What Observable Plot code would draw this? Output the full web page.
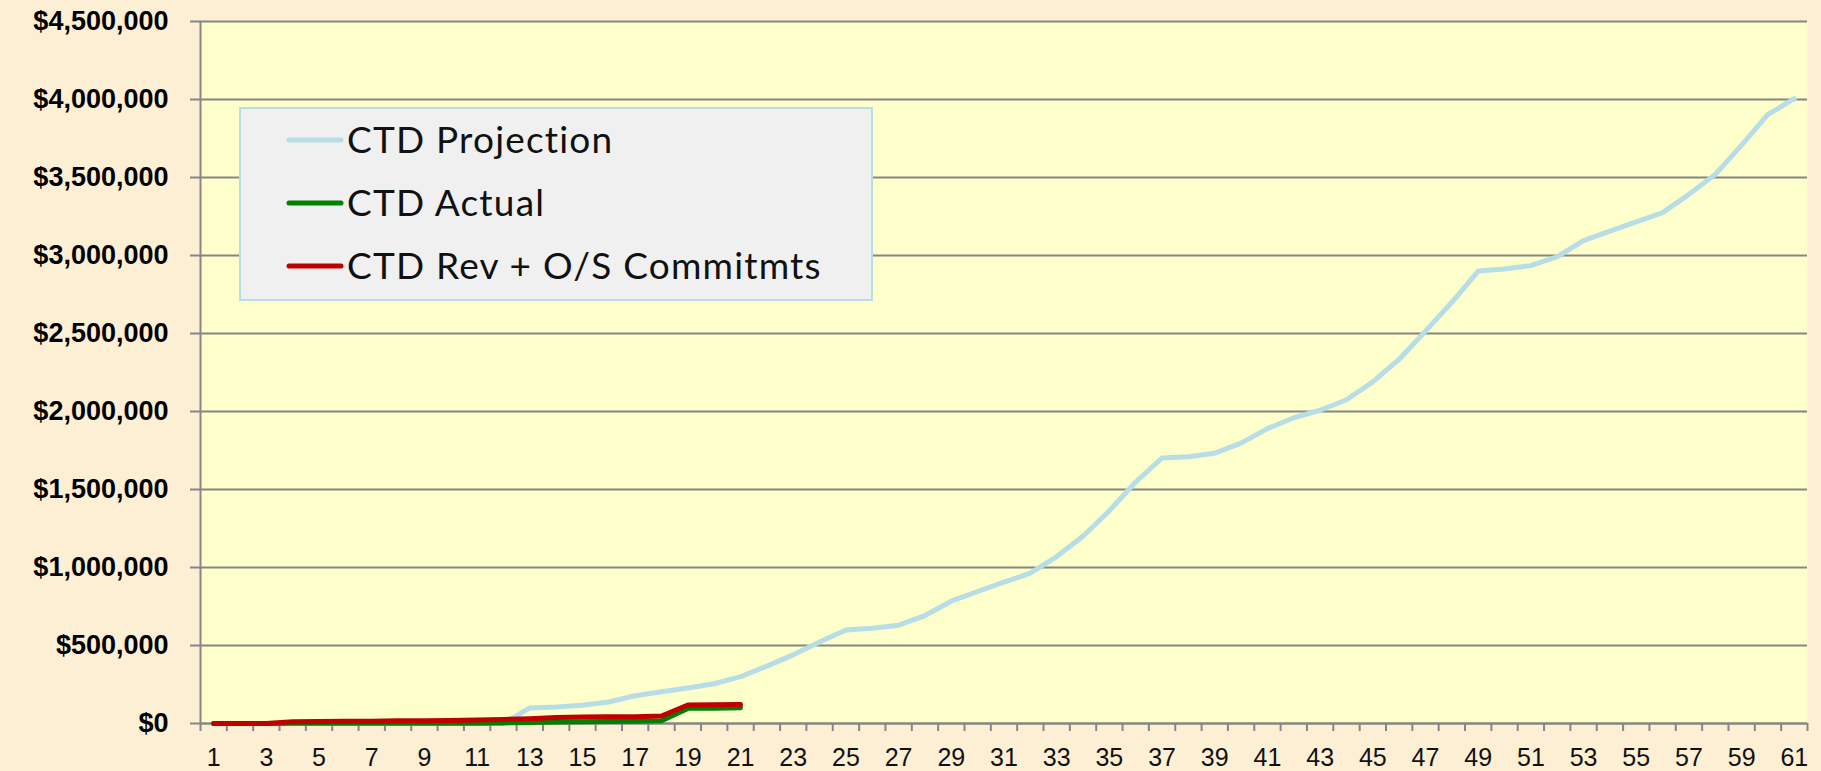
<!DOCTYPE html>
<html>
<head>
<meta charset="utf-8">
<script src="https://cdn.jsdelivr.net/npm/d3@7"></script>
<script src="https://cdn.jsdelivr.net/npm/@observablehq/plot@0.6"></script>
<style>
  html, body { margin: 0; padding: 0; background: #fdefd4; }
  #wrap { position: relative; width: 1821px; height: 771px; overflow: hidden; background: #fdefd4; }
  #legend { position: absolute; left: 239px; top: 107px; }
</style>
</head>
<body>
<div id="wrap"></div>
<script>
// ---- data ----
const periods = [1,2,3,4,5,6,7,8,9,10,11,12,13,14,15,16,17,18,19,20,21,22,23,24,25,26,27,28,29,30,31,32,33,34,35,36,37,38,39,40,41,42,43,44,45,46,47,48,49,50,51,52,53,54,55,56,57,58,59,60,61];
const ctdProjection = [0,0,0,0,0,0,0,0,0,0,0,0,100000,106000,117000,138000,178000,203000,228000,255000,300000,368000,440000,522000,600000,611000,630000,692000,784000,846000,906000,964000,1070000,1200000,1364000,1548000,1702000,1710000,1733000,1797000,1890000,1960000,2008000,2075000,2190000,2335000,2515000,2700000,2900000,2913000,2935000,2992000,3096000,3156000,3215000,3275000,3392000,3520000,3708000,3904000,4005000];
const ctdActual = [0,0,0,1000,1000,1000,1000,1500,1500,2000,2000,4000,7000,10000,12000,13000,14000,17000,97000,98000,101000];
const ctdRevCommit = [0,0,0,12000,13000,14000,15000,18000,18000,20000,22000,26000,31000,38000,42000,43000,44000,48000,119000,120000,121000];
const seriesNames = ["CTD Projection", "CTD Actual", "CTD Rev + O/S Commitmts"];
const seriesColors = ["#b7dde6", "#008000", "#c00000"];
const yTickValues = [0,500000,1000000,1500000,2000000,2500000,3000000,3500000,4000000,4500000];
const xLabelValues = [1,3,5,7,9,11,13,15,17,19,21,23,25,27,29,31,33,35,37,39,41,43,45,47,49,51,53,55,57,59,61];

// ---- build tables ----
const rows = (vals) => vals.map((v, i) => ({period: periods[i], value: v}));
const projRows = rows(ctdProjection);
const actRows = rows(ctdActual);
const revRows = rows(ctdRevCommit);
const boundaries = [periods[0] - 0.5, ...periods.map(p => p + 0.5)];

const gray = "#868686";
const lineOpts = {x: "period", y: "value", strokeWidth: 5, strokeLinecap: "round", strokeLinejoin: "round"};

const chart = Plot.plot({
  width: 1821,
  height: 771,
  marginLeft: 200,
  marginRight: 14,
  marginTop: 21,
  marginBottom: 48,
  style: {background: "transparent", overflow: "visible"},
  x: {type: "linear", domain: [0.5, 61.5]},
  y: {domain: [0, 4500000]},
  marks: [
    Plot.frame({fill: "#ffffcc", stroke: null}),
    Plot.gridY(yTickValues, {stroke: gray, strokeOpacity: 1, strokeWidth: 2}),
    Plot.ruleX([0.5], {stroke: gray, strokeWidth: 2}),
    Plot.ruleY([0], {stroke: gray, strokeWidth: 2}),
    Plot.axisY(yTickValues, {
      tickSize: 10, tickPadding: 22, tickFormat: d3.format("$,"),
      stroke: gray, strokeWidth: 2, fill: "#000",
      fontSize: 27, fontWeight: "bold", fontFamily: "Liberation Sans, Arial, sans-serif", label: null
    }),
    Plot.axisX(boundaries, {tickSize: 8, tickFormat: () => "", stroke: gray, strokeWidth: 2, label: null}),
    Plot.axisX(xLabelValues, {
      tickSize: 0, tickPadding: 25, tickFormat: d => String(d), fill: "#111",
      fontSize: 25, fontFamily: "Liberation Sans, Arial, sans-serif", label: null
    }),
    Plot.line(projRows, {...lineOpts, stroke: seriesColors[0]}),
    Plot.line(actRows, {...lineOpts, stroke: seriesColors[1]}),
    Plot.line(revRows, {...lineOpts, stroke: seriesColors[2]})
  ]
});

const wrap = document.getElementById("wrap");
wrap.appendChild(chart);

// ---- legend ----
const lw = 634, lh = 194;
const legend = d3.select(wrap).append("svg")
  .attr("id", "legend").attr("width", lw).attr("height", lh);
legend.append("rect").attr("x", 1).attr("y", 1).attr("width", lw - 2).attr("height", lh - 2)
  .attr("fill", "#f0f0f0").attr("stroke", "#b7dde6").attr("stroke-width", 2);
const rowY = [33, 96, 159];
seriesNames.forEach((name, i) => {
  legend.append("line")
    .attr("x1", 50).attr("x2", 102).attr("y1", rowY[i]).attr("y2", rowY[i])
    .attr("stroke", seriesColors[i]).attr("stroke-width", 5).attr("stroke-linecap", "round");
  legend.append("text")
    .attr("x", 108).attr("y", rowY[i]).attr("dy", "0.36em")
    .attr("font-family", "Lato, 'Open Sans', sans-serif").attr("font-size", 37)
    .attr("letter-spacing", "1.2px")
    .attr("fill", "#111").text(name);
});
</script>
</body>
</html>
